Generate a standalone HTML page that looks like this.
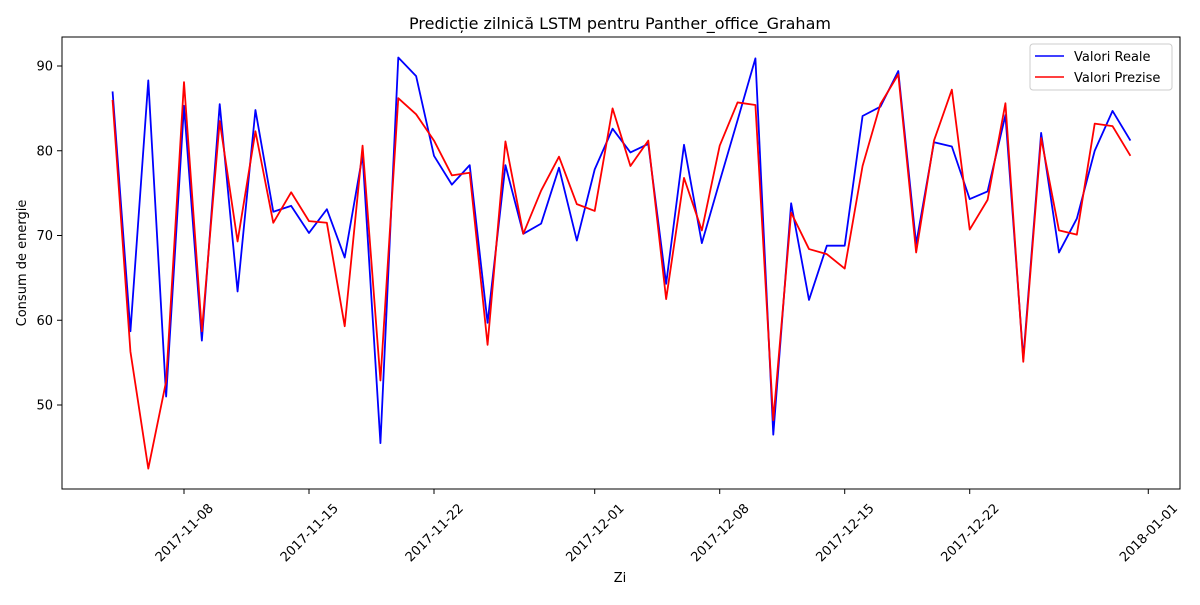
<!DOCTYPE html>
<html><head><meta charset="utf-8"><style>
body{margin:0;background:#fff;font-family:"Liberation Sans","DejaVu Sans",sans-serif}
svg text{font-family:"DejaVu Sans","Liberation Sans",sans-serif;fill:#000}
</style></head><body>
<svg id="chart" width="1200" height="600" xmlns="http://www.w3.org/2000/svg">
<rect width="1200" height="600" fill="#fff"/>
<text x="620" y="29" text-anchor="middle" font-size="16">Predicție zilnică LSTM pentru Panther_office_Graham</text>
<g id="plot"></g>
<rect x="62" y="37" width="1118" height="452" fill="none" stroke="#000" stroke-width="1"/>
<text x="620" y="582" text-anchor="middle" font-size="13">Zi</text>
<text transform="translate(26,263) rotate(-90)" text-anchor="middle" font-size="13">Consum de energie</text>
<g>
<rect x="1030" y="44" width="142" height="46" rx="3" fill="#fff" stroke="#ccc"/>
<line x1="1035" y1="56" x2="1064" y2="56" stroke="#0000ff" stroke-width="1.5"/>
<text x="1074" y="61" font-size="13">Valori Reale</text>
<line x1="1035" y1="77" x2="1064" y2="77" stroke="#ff0000" stroke-width="1.5"/>
<text x="1074" y="82" font-size="13">Valori Prezise</text>
</g>
</svg>
<script>
const startDate = "2017-11-04";
const realValues = [87.0,58.7,88.3,51.0,85.3,57.6,85.5,63.4,84.8,72.8,73.5,70.3,73.1,67.4,79.5,45.5,91.0,88.8,79.4,76.0,78.3,59.7,78.3,70.2,71.4,78.0,69.4,77.8,82.6,79.8,80.8,64.3,80.7,69.1,76.4,83.6,90.9,46.5,73.8,62.4,68.8,68.8,84.1,85.2,89.4,69.0,81.0,80.5,74.3,75.2,84.2,55.5,82.1,68.0,72.0,80.0,84.7,81.2];
const predValues = [86.0,56.3,42.5,52.8,88.1,58.7,83.5,69.3,82.3,71.5,75.1,71.7,71.5,59.3,80.6,52.9,86.2,84.3,81.2,77.1,77.4,57.1,81.1,70.2,75.3,79.3,73.7,72.9,85.0,78.2,81.2,62.5,76.8,70.6,80.6,85.7,85.4,48.2,72.7,68.4,67.8,66.1,78.2,85.5,89.0,68.0,81.2,87.2,70.7,74.2,85.6,55.1,81.5,70.6,70.1,83.2,82.9,79.4];
const yTicks = [50,60,70,80,90];
const xTickDates = ["2017-11-08","2017-11-15","2017-11-22","2017-12-01","2017-12-08","2017-12-15","2017-12-22","2018-01-01"];

const DAY = 86400000;
const t0 = Date.parse(startDate);
const ref = Date.parse("2017-11-08");
function xDay(ms){ return 184 + (ms - ref)/DAY * 17.857; }
function xIdx(i){ return xDay(t0 + i*DAY); }
function y(v){ return 66 + (90 - v) * 8.475; }
const NS = "http://www.w3.org/2000/svg";
const plot = document.getElementById('plot');
function mk(tag, attrs){ const e = document.createElementNS(NS, tag); for (const k in attrs) e.setAttribute(k, attrs[k]); plot.appendChild(e); return e; }

yTicks.forEach(v => {
  const l = mk('line', {x1:57, x2:62, y1:y(v), y2:y(v), stroke:'#000'});
  
  
  const t = mk('text', {x:53, y:y(v)+4.5, 'text-anchor':'end', 'font-size':13});
  t.textContent = v;
  
  
});
xTickDates.forEach(d => {
  const x = xDay(Date.parse(d));
  const l = mk('line', {x1:x, x2:x, y1:489, y2:494, stroke:'#000'});
  
  
  const t = mk('text', {x:0, y:0, 'text-anchor':'end', 'font-size':13, transform:`translate(${x+30},${509}) rotate(-45)`});
  t.textContent = d;
  
  
});
function series(vals, color, name){
  const p = mk('polyline', {points: vals.map((v,i)=>xIdx(i).toFixed(2)+','+y(v).toFixed(2)).join(' '), fill:'none', stroke:color, 'stroke-width':1.8, 'stroke-linejoin':'round'});
  
  
}
series(realValues, '#0000ff', 'real-values-line');
series(predValues, '#ff0000', 'predicted-values-line');
</script>
</body></html>
